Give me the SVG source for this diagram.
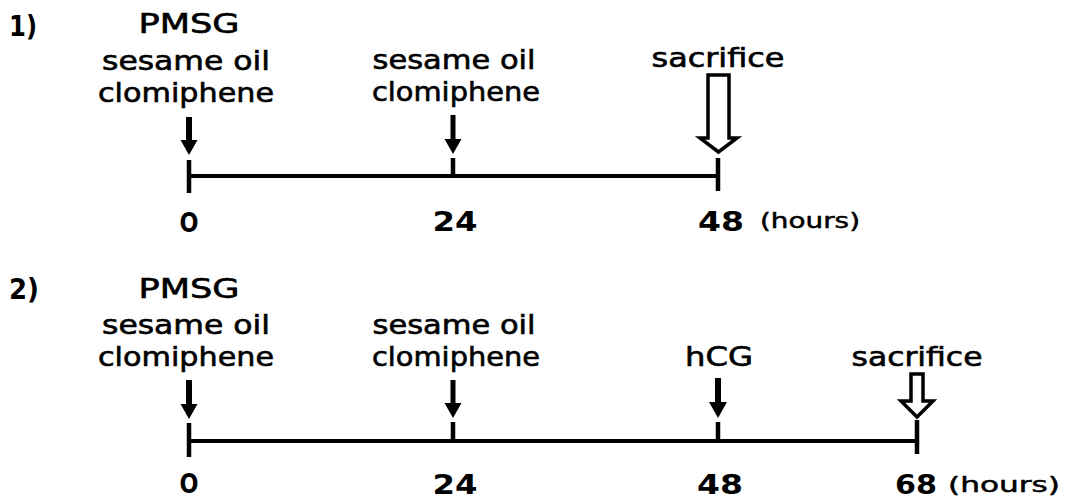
<svg xmlns="http://www.w3.org/2000/svg" width="1069" height="499" viewBox="0 0 1069 499">
<defs>
<style>
.t{font-family:"DejaVu Sans","Liberation Sans",sans-serif;font-size:26px;fill:#000;stroke:#000;stroke-width:0.6;text-anchor:middle}
.n{font-family:"DejaVu Sans","Liberation Sans",sans-serif;font-size:27px;font-weight:bold;fill:#000;text-anchor:middle}
.h{font-family:"DejaVu Sans","Liberation Sans",sans-serif;font-size:21px;fill:#000;stroke:#000;stroke-width:0.5;text-anchor:start}
.lab{font-family:"DejaVu Sans","Liberation Sans",sans-serif;font-size:28px;font-weight:bold;fill:#000;text-anchor:start}
.axis{stroke:#000;stroke-width:4;fill:none}
.tick{stroke:#000;stroke-width:4.5;fill:none}
.fa{fill:#000;stroke:none}
.ha{fill:#fff;stroke:#000;stroke-width:3.5;stroke-linejoin:miter}
</style>
</defs>
<rect width="1069" height="499" fill="#fff"/>

<!-- Panel 1 -->
<g id="panel1-label"><text class="lab" x="9" y="36" textLength="28" lengthAdjust="spacingAndGlyphs">1)</text></g>
<g id="p1-t0">
<text class="t" x="189" y="33" textLength="101" lengthAdjust="spacingAndGlyphs">PMSG</text>
<text class="t" x="186" y="70" textLength="168" lengthAdjust="spacingAndGlyphs">sesame oil</text>
<text class="t" x="186" y="102" textLength="176" lengthAdjust="spacingAndGlyphs">clomiphene</text>
</g>
<g id="p1-t24">
<text class="t" x="454" y="69" textLength="163" lengthAdjust="spacingAndGlyphs">sesame oil</text>
<text class="t" x="456" y="101" textLength="168" lengthAdjust="spacingAndGlyphs">clomiphene</text>
</g>
<g id="p1-t48">
<text class="t" x="718" y="67" textLength="133" lengthAdjust="spacingAndGlyphs">sacrifice</text>
</g>
<g id="p1-axis-labels">
<text class="n" x="189" y="232" textLength="19" lengthAdjust="spacingAndGlyphs">O</text>
<text class="n" x="455" y="231" textLength="45" lengthAdjust="spacingAndGlyphs">24</text>
<text class="n" x="721" y="231" textLength="46" lengthAdjust="spacingAndGlyphs">48</text>
<text class="h" x="760" y="228" textLength="100" lengthAdjust="spacingAndGlyphs">(hours)</text>
</g>

<!-- Panel 2 -->
<g id="panel2-label"><text class="lab" x="9" y="299" textLength="30" lengthAdjust="spacingAndGlyphs">2)</text></g>
<g id="p2-t0">
<text class="t" x="189" y="298" textLength="101" lengthAdjust="spacingAndGlyphs">PMSG</text>
<text class="t" x="186" y="334" textLength="168" lengthAdjust="spacingAndGlyphs">sesame oil</text>
<text class="t" x="186" y="366" textLength="176" lengthAdjust="spacingAndGlyphs">clomiphene</text>
</g>
<g id="p2-t24">
<text class="t" x="454" y="334" textLength="163" lengthAdjust="spacingAndGlyphs">sesame oil</text>
<text class="t" x="456" y="366" textLength="168" lengthAdjust="spacingAndGlyphs">clomiphene</text>
</g>
<g id="p2-t48">
<text class="t" x="719" y="366" textLength="68" lengthAdjust="spacingAndGlyphs">hCG</text>
</g>
<g id="p2-t68">
<text class="t" x="917" y="366" textLength="131" lengthAdjust="spacingAndGlyphs">sacrifice</text>
</g>
<g id="p2-axis-labels">
<text class="n" x="189" y="493" textLength="19" lengthAdjust="spacingAndGlyphs">O</text>
<text class="n" x="455" y="494" textLength="45" lengthAdjust="spacingAndGlyphs">24</text>
<text class="n" x="720" y="494" textLength="46" lengthAdjust="spacingAndGlyphs">48</text>
<text class="n" x="916" y="494" textLength="42" lengthAdjust="spacingAndGlyphs">68</text>
<text class="h" x="948" y="492" textLength="112" lengthAdjust="spacingAndGlyphs">(hours)</text>
</g>

<!-- Connectors: axes, ticks, arrows -->
<g id="connectors">
<!-- panel 1 axis -->
<line class="axis" x1="189" y1="176" x2="718" y2="176"/>
<line class="tick" x1="189" y1="160" x2="189" y2="193"/>
<line class="tick" x1="453" y1="158" x2="453" y2="176"/>
<line class="tick" x1="718" y1="158" x2="718" y2="191"/>
<!-- panel 1 arrows -->
<path class="fa" d="M186,117 H192 V140 H197.5 L189,155 L180.5,140 H186 Z"/>
<path class="fa" d="M450.5,115 H455.5 V139 H461.5 L453,154 L444.5,139 H450.5 Z"/>
<path class="ha" d="M708,75 H729 V138 H737 L718.5,152 L700,138 H708 Z"/>
<!-- panel 2 axis -->
<line class="axis" x1="189" y1="441" x2="917" y2="441"/>
<line class="tick" x1="189" y1="423" x2="189" y2="457"/>
<line class="tick" x1="453" y1="422" x2="453" y2="441"/>
<line class="tick" x1="718" y1="422" x2="718" y2="441"/>
<line class="tick" x1="917" y1="420" x2="917" y2="454"/>
<!-- panel 2 arrows -->
<path class="fa" d="M186,380 H192 V404 H197.5 L189,419 L180.5,404 H186 Z"/>
<path class="fa" d="M450.5,380 H455.5 V403 H461.5 L453,418 L444.5,403 H450.5 Z"/>
<path class="fa" d="M715,378 H721 V402 H727 L718,418 L709,402 H715 Z"/>
<path class="ha" d="M911,374 H923 V401 H933 L917,417 L901,401 H911 Z"/>
</g>
</svg>
